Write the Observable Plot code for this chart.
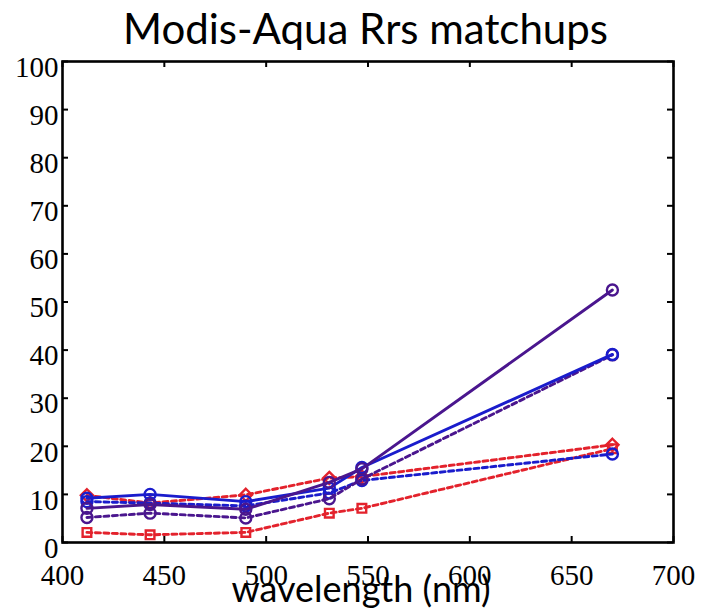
<!DOCTYPE html>
<html>
<head>
<meta charset="utf-8">
<script src="https://cdn.jsdelivr.net/npm/d3@7"></script>
<script src="https://cdn.jsdelivr.net/npm/@observablehq/plot@0.6"></script>
<style>
  html, body { margin: 0; padding: 0; background: #fff; }
  #wrap { width: 704px; height: 609px; position: relative; overflow: hidden; }
  #title { position: absolute; left: 60px; width: 611px; top: 3px; height: 50px;
           text-align: center; font-family: Lato, "Open Sans", sans-serif; font-size: 42px;
           line-height: 50px; color: #000; white-space: nowrap; }
  #chart { position: absolute; left: 0; top: 50px; }
  .dashed { stroke-dasharray: 5 3.5; }
</style>
</head>
<body>
<div id="wrap">
  <div id="title">Modis-Aqua Rrs matchups</div>
  <div id="chart"></div>
</div>
<script>
const titleText = "Modis-Aqua Rrs matchups";
const xLabel = "wavelength (nm)";
const wavelengths = [412, 443, 490, 531, 547, 670];
const xTicks = [400, 450, 500, 550, 600, 650, 700];
const yTicks = [0, 10, 20, 30, 40, 50, 60, 70, 80, 90, 100];

const redSquare    = [2.1, 1.6, 2.1, 6.1, 7.1, 19.5];
const redDiamond   = [9.8, 8.2, 9.9, 13.4, 13.7, 20.3];
const blueDotted   = [8.5, 8.2, 7.6, 10.3, 12.9, 18.4];
const purpleDotted = [5.2, 6.1, 5.1, 9.1, 13.2, 39.0];
const blueSolid    = [9.2, 10.0, 8.5, 11.3, 15.6, 39.1];
const purpleSolid  = [7.1, 7.9, 6.9, 12.5, 15.3, 52.5];

const RED = "#e3222c", BLUE = "#1a1ccc", PURPLE = "#4a168e";
const series = [
  {values: redSquare,    color: RED,    dashed: true,  symbol: "square2"},
  {values: redDiamond,   color: RED,    dashed: true,  symbol: "diamond2"},
  {values: blueDotted,   color: BLUE,   dashed: true,  symbol: "circle"},
  {values: purpleDotted, color: PURPLE, dashed: true,  symbol: "circle"},
  {values: blueSolid,    color: BLUE,   dashed: false, symbol: "circle"},
  {values: purpleSolid,  color: PURPLE, dashed: false, symbol: "circle"}
];

const lineMarks = series.flatMap(s => {
  const rows = wavelengths.map((w, i) => ({w, v: s.values[i]}));
  const lineOpts = {x: "w", y: "v", stroke: s.color, strokeWidth: 2.9};
  if (s.dashed) { lineOpts.strokeDasharray = "5 3.5"; lineOpts.className = "dashed"; }
  return [
    Plot.line(rows, lineOpts),
    Plot.dot(rows, {x: "w", y: "v", stroke: s.color, fill: "none", strokeWidth: 2.4, r: 5.5, symbol: s.symbol})
  ];
});

const W = 704, H = 559, mL = 62, mR = 31, mT = 11, mB = 67;
const fw = W - mL - mR, fh = H - mT - mB, tl = 6;

const chart = Plot.plot({
  width: W, height: H,
  marginLeft: mL, marginRight: mR, marginTop: mT, marginBottom: mB,
  x: {domain: [400, 700]},
  y: {domain: [0, 100]},
  style: {fontFamily: "'Liberation Serif', 'DejaVu Serif', serif", fontSize: "29px", background: "#fff", color: "#000", overflow: "visible"},
  marks: [
    ...lineMarks,
    Plot.tickX(xTicks, {x: d => d, insetTop: fh - tl, stroke: "#000", strokeWidth: 2}),
    Plot.tickX(xTicks, {x: d => d, insetBottom: fh - tl, stroke: "#000", strokeWidth: 2}),
    Plot.tickY(yTicks, {y: d => d, insetRight: fw - tl, stroke: "#000", strokeWidth: 2}),
    Plot.tickY(yTicks, {y: d => d, insetLeft: fw - tl, stroke: "#000", strokeWidth: 2}),
    Plot.frame({stroke: "#000", strokeWidth: 2.6}),
    Plot.axisX(xTicks, {tickSize: 0, tickPadding: 22, label: null, fontSize: 29}),
    Plot.axisY(yTicks, {tickSize: 0, tickPadding: 4, label: null, fontSize: 29, dy: 6}),
    Plot.text([xLabel], {text: d => d, frameAnchor: "bottom", dy: 48, dx: -7, lineAnchor: "middle",
      fontSize: 36, fontFamily: "Lato, 'Open Sans', sans-serif", fill: "#000"})
  ]
});
document.getElementById("chart").appendChild(chart);
</script>
</body>
</html>
